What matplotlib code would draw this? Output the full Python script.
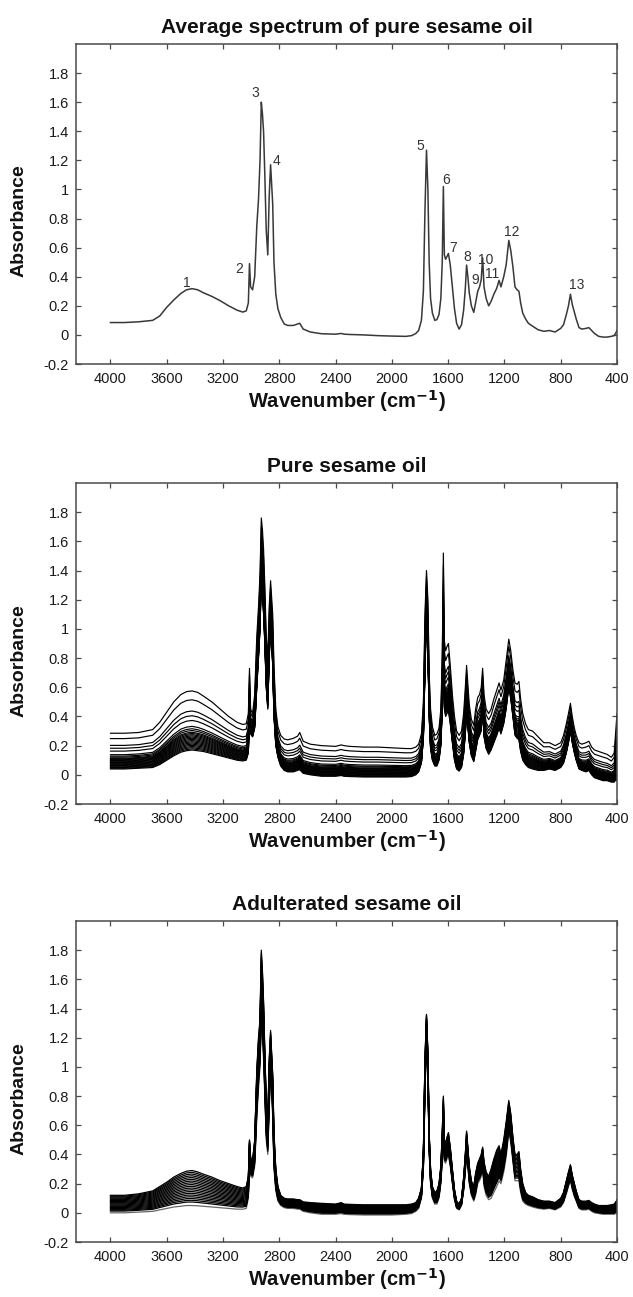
import matplotlib
matplotlib.use("Agg")
import matplotlib.pyplot as plt
import numpy as np
from matplotlib.ticker import FixedLocator, FuncFormatter

plt.rcParams['font.family'] = ['Liberation Sans', 'DejaVu Sans']

# ---------------- data ----------------
wn = [4000, 3900, 3800, 3700, 3650, 3600, 3550, 3500, 3460, 3420,
      3380, 3340, 3280, 3220, 3160, 3100, 3060, 3035, 3020, 3012,
      3004, 2990, 2975, 2960, 2948, 2937, 2928, 2920, 2912, 2903,
      2893, 2882, 2872, 2862, 2855, 2847, 2838, 2825, 2810, 2790,
      2765, 2740, 2700, 2670, 2655, 2630, 2580, 2500, 2400, 2360,
      2340, 2300, 2200, 2100, 2000, 1900, 1860, 1830, 1810, 1790,
      1776, 1765, 1754, 1744, 1735, 1725, 1712, 1695, 1680, 1665,
      1652, 1642, 1634, 1627, 1618, 1608, 1598, 1585, 1570, 1555,
      1540, 1522, 1505, 1490, 1478, 1469, 1460, 1450, 1435, 1418,
      1405, 1390, 1377, 1365, 1355, 1345, 1330, 1312, 1295, 1275,
      1255, 1238, 1225, 1205, 1188, 1169, 1155, 1140, 1125, 1110,
      1097, 1085, 1070, 1050, 1030, 1000, 960, 920, 880, 840,
      800, 780, 760, 745, 731, 718, 703, 690, 670, 650,
      620, 600, 580, 560, 530, 500, 470, 440, 420, 405,
      400]

avg_abs = [0.085, 0.085, 0.09, 0.10, 0.13, 0.19, 0.24, 0.285, 0.31, 0.318,
           0.31, 0.29, 0.265, 0.235, 0.20, 0.17, 0.157, 0.165, 0.22, 0.49,
           0.33, 0.31, 0.40, 0.75, 0.93, 1.20, 1.60, 1.52, 1.40, 1.10,
           0.72, 0.55, 0.95, 1.17, 1.05, 0.90, 0.50, 0.28, 0.18, 0.12,
           0.075, 0.065, 0.065, 0.075, 0.08, 0.04, 0.02, 0.008, 0.005, 0.01,
           0.005, 0.003, 0.0, -0.005, -0.008, -0.01, -0.005, 0.01, 0.03, 0.10,
           0.30, 0.85, 1.27, 1.00, 0.50, 0.25, 0.15, 0.10, 0.105, 0.14,
           0.25, 0.50, 1.02, 0.55, 0.52, 0.54, 0.56, 0.48, 0.33, 0.18,
           0.08, 0.04, 0.07, 0.17, 0.32, 0.48, 0.40, 0.29, 0.20, 0.155,
           0.22, 0.30, 0.33, 0.38, 0.53, 0.33, 0.25, 0.20, 0.23, 0.28,
           0.32, 0.375, 0.33, 0.40, 0.48, 0.65, 0.58, 0.47, 0.33, 0.31,
           0.30, 0.22, 0.15, 0.11, 0.08, 0.06, 0.035, 0.025, 0.03, 0.02,
           0.045, 0.07, 0.14, 0.20, 0.28, 0.21, 0.155, 0.11, 0.05, 0.04,
           0.045, 0.05, 0.03, 0.01, -0.01, -0.015, -0.015, -0.01, -0.005, 0.02,
           0.03]

pure_low = [0.04, 0.04, 0.045, 0.05, 0.07, 0.10, 0.13, 0.155, 0.165, 0.17,
            0.165, 0.16, 0.145, 0.13, 0.115, 0.10, 0.095, 0.10, 0.15, 0.45,
            0.28, 0.26, 0.32, 0.60, 0.80, 1.00, 1.35, 1.25, 1.10, 0.90,
            0.60, 0.45, 0.80, 1.00, 0.90, 0.75, 0.40, 0.20, 0.12, 0.06,
            0.03, 0.02, 0.02, 0.03, 0.035, 0.01, 0.0, -0.01, -0.01, -0.005,
            -0.01, -0.012, -0.015, -0.015, -0.015, -0.015, -0.012, 0.0, 0.02, 0.08,
            0.25, 0.70, 1.10, 0.85, 0.40, 0.18, 0.10, 0.06, 0.06, 0.10,
            0.20, 0.45, 0.95, 0.45, 0.40, 0.42, 0.44, 0.35, 0.22, 0.10,
            0.04, 0.025, 0.05, 0.14, 0.28, 0.42, 0.33, 0.22, 0.13, 0.09,
            0.16, 0.24, 0.27, 0.30, 0.45, 0.26, 0.18, 0.14, 0.17, 0.22,
            0.27, 0.32, 0.28, 0.35, 0.45, 0.60, 0.52, 0.40, 0.27, 0.25,
            0.24, 0.16, 0.10, 0.07, 0.05, 0.04, 0.03, 0.03, 0.04, 0.03,
            0.05, 0.08, 0.15, 0.22, 0.30, 0.22, 0.15, 0.10, 0.04, 0.03,
            0.02, 0.03, 0.0, -0.02, -0.03, -0.04, -0.04, -0.05, -0.05, -0.03,
            -0.04]

pure_high = [0.285, 0.285, 0.29, 0.31, 0.36, 0.43, 0.50, 0.55, 0.57, 0.575,
             0.565, 0.54, 0.50, 0.45, 0.40, 0.36, 0.345, 0.35, 0.42, 0.73,
             0.45, 0.42, 0.55, 0.95, 1.15, 1.38, 1.76, 1.68, 1.55, 1.30,
             0.95, 0.80, 1.15, 1.33, 1.22, 1.10, 0.75, 0.45, 0.33, 0.27,
             0.245, 0.24, 0.25, 0.265, 0.29, 0.23, 0.21, 0.20, 0.195, 0.205,
             0.20, 0.195, 0.19, 0.19, 0.185, 0.18, 0.18, 0.19, 0.21, 0.28,
             0.50, 1.10, 1.40, 1.20, 0.70, 0.45, 0.33, 0.27, 0.28, 0.32,
             0.45, 0.80, 1.52, 0.92, 0.85, 0.88, 0.90, 0.75, 0.55, 0.40,
             0.30, 0.27, 0.30, 0.42, 0.60, 0.75, 0.62, 0.48, 0.38, 0.34,
             0.45, 0.53, 0.55, 0.60, 0.73, 0.55, 0.45, 0.42, 0.45, 0.52,
             0.58, 0.63, 0.58, 0.65, 0.78, 0.93, 0.85, 0.72, 0.63, 0.62,
             0.64, 0.52, 0.42, 0.35, 0.31, 0.30, 0.26, 0.22, 0.22, 0.20,
             0.22, 0.27, 0.35, 0.42, 0.49, 0.40, 0.32, 0.27, 0.22, 0.21,
             0.22, 0.23, 0.19, 0.17, 0.16, 0.15, 0.14, 0.12, 0.15, 0.35,
             0.42]

# position of each pure-oil spectrum between the low and high envelopes
pure_mix = [0.0, 0.02, 0.04, 0.06, 0.08, 0.10, 0.12, 0.14, 0.16, 0.18,
            0.20, 0.22, 0.24, 0.26, 0.28, 0.30, 0.33, 0.36, 0.40, 0.50,
            0.58, 0.66, 0.85, 1.0]

adult_low = [0.0, 0.0, 0.005, 0.01, 0.02, 0.03, 0.04, 0.045, 0.05, 0.05,
             0.048, 0.045, 0.04, 0.035, 0.03, 0.025, 0.025, 0.03, 0.10, 0.38,
             0.25, 0.24, 0.32, 0.65, 0.85, 1.00, 1.30, 1.20, 1.05, 0.80,
             0.50, 0.40, 0.70, 0.95, 0.85, 0.65, 0.30, 0.15, 0.08, 0.05,
             0.035, 0.03, 0.03, 0.025, 0.025, 0.01, 0.0, -0.01, -0.01, -0.005,
             -0.01, -0.012, -0.015, -0.015, -0.015, -0.01, -0.005, 0.01, 0.03, 0.10,
             0.30, 0.80, 1.20, 0.90, 0.42, 0.20, 0.10, 0.06, 0.06, 0.10,
             0.20, 0.35, 0.55, 0.35, 0.34, 0.37, 0.39, 0.32, 0.20, 0.09,
             0.03, 0.02, 0.05, 0.15, 0.28, 0.40, 0.32, 0.20, 0.12, 0.08,
             0.12, 0.20, 0.22, 0.25, 0.30, 0.18, 0.12, 0.09, 0.10, 0.14,
             0.18, 0.22, 0.20, 0.28, 0.38, 0.55, 0.48, 0.35, 0.22, 0.22,
             0.22, 0.14, 0.08, 0.06, 0.05, 0.04, 0.03, 0.025, 0.03, 0.02,
             0.04, 0.07, 0.13, 0.18, 0.22, 0.16, 0.11, 0.08, 0.03, 0.02,
             0.02, 0.025, 0.01, 0.0, -0.005, -0.01, -0.01, -0.01, -0.01, 0.0,
             0.0]

adult_high = [0.12, 0.12, 0.13, 0.15, 0.18, 0.21, 0.245, 0.27, 0.285, 0.29,
              0.28, 0.265, 0.245, 0.22, 0.20, 0.18, 0.17, 0.18, 0.25, 0.50,
              0.38, 0.36, 0.50, 0.98, 1.20, 1.33, 1.80, 1.66, 1.45, 1.10,
              0.78, 0.62, 1.05, 1.25, 1.10, 0.95, 0.55, 0.30, 0.18, 0.12,
              0.10, 0.095, 0.095, 0.09, 0.09, 0.075, 0.07, 0.065, 0.06, 0.07,
              0.06, 0.058, 0.055, 0.055, 0.055, 0.055, 0.06, 0.07, 0.10, 0.17,
              0.42, 1.05, 1.36, 1.10, 0.55, 0.30, 0.18, 0.14, 0.15, 0.20,
              0.32, 0.55, 0.80, 0.50, 0.48, 0.52, 0.55, 0.45, 0.30, 0.16,
              0.08, 0.06, 0.10, 0.24, 0.40, 0.56, 0.45, 0.32, 0.22, 0.18,
              0.27, 0.34, 0.37, 0.40, 0.45, 0.35, 0.28, 0.25, 0.30, 0.37,
              0.43, 0.46, 0.40, 0.50, 0.62, 0.77, 0.68, 0.52, 0.40, 0.40,
              0.42, 0.30, 0.20, 0.14, 0.12, 0.11, 0.09, 0.08, 0.08, 0.07,
              0.10, 0.14, 0.22, 0.28, 0.33, 0.26, 0.20, 0.15, 0.09, 0.08,
              0.08, 0.085, 0.07, 0.06, 0.05, 0.05, 0.05, 0.055, 0.06, 0.08,
              0.09]

adult_mix = [0.0, 0.1, 0.15, 0.2, 0.25, 0.3, 0.35, 0.4, 0.45, 0.5,
             0.55, 0.6, 0.65, 0.7, 0.75, 0.8, 0.85, 0.9, 0.95, 1.0]

peak_labels = ['1', '2', '3', '4', '5', '6', '7', '8', '9', '10', '11', '12', '13']
peak_label_wn = [3459, 3087, 2970, 2821, 1797, 1611, 1568, 1462, 1411, 1333, 1285, 1147, 684]
peak_label_abs = [0.358, 0.45, 1.66, 1.194, 1.298, 1.067, 0.595, 0.537, 0.38, 0.514, 0.418, 0.71, 0.342]

x_ticks = [4000, 3600, 3200, 2800, 2400, 2000, 1600, 1200, 800, 400]
y_ticks = [-0.2, 0, 0.2, 0.4, 0.6, 0.8, 1.0, 1.2, 1.4, 1.6, 1.8]
titles = ['Average spectrum of pure sesame oil', 'Pure sesame oil', 'Adulterated sesame oil']

# ---------------- layout ----------------
W, H = 633, 1297
fig = plt.figure(figsize=(W / 100, H / 100), dpi=100)
fig.patch.set_facecolor('white')

FRAME = '#4a4a4a'


def make_axes(top, bottom, left=76, right=617):
    return fig.add_axes([left / W, 1 - bottom / H, (right - left) / W, (bottom - top) / H])


def style(ax, title):
    ax.set_xlim(4245, 400)
    ax.set_ylim(-0.2, 2.0)
    ax.xaxis.set_major_locator(FixedLocator(x_ticks))
    ax.yaxis.set_major_locator(FixedLocator(y_ticks))
    ax.yaxis.set_major_formatter(FuncFormatter(lambda v, p: ('%g' % round(v, 2))))
    ax.xaxis.set_major_formatter(FuncFormatter(lambda v, p: '%d' % v))
    ax.tick_params(axis='both', which='major', direction='in', length=3.5, width=0.9,
                   color=FRAME, labelsize=10.5, labelcolor='#1a1a1a',
                   top=True, right=True)
    ax.tick_params(axis='y', pad=5)
    ax.tick_params(axis='x', pad=6)
    for s in ax.spines.values():
        s.set_color(FRAME)
        s.set_linewidth(1.1)
    ax.set_title(title, fontsize=15, fontweight='bold', pad=8, color='#111111')
    ax.set_xlabel('Wavenumber (cm$^{\\mathbf{-1}}$)', fontsize=14.5, fontweight='bold', color='#111111')
    ax.set_ylabel('Absorbance', fontsize=14, fontweight='bold', color='#111111')
    ax.yaxis.set_label_coords(-0.09, 0.447)
    ax.xaxis.set_label_coords(0.5, -0.075)


wn_arr = np.array(wn)

# Panel 1: average spectrum
ax1 = make_axes(44, 364)
ax1.plot(wn_arr, avg_abs, color='#383838', lw=1.1)
for lab, xw, ya in zip(peak_labels, peak_label_wn, peak_label_abs):
    ax1.text(xw, ya, lab, fontsize=10, color='#333333', ha='center', va='center')
style(ax1, titles[0])

# Panel 2: pure sesame oil spectra
ax2 = make_axes(483, 804)
lo, hi = np.array(pure_low), np.array(pure_high)
for f in pure_mix:
    ax2.plot(wn_arr, lo + f * (hi - lo), color='black', lw=0.85)
style(ax2, titles[1])

# Panel 3: adulterated sesame oil spectra
ax3 = make_axes(921, 1242)
lo, hi = np.array(adult_low), np.array(adult_high)
for i, f in enumerate(adult_mix):
    ax3.plot(wn_arr, lo + f * (hi - lo), color='#666666' if i == 0 else 'black',
             lw=0.9)
style(ax3, titles[2])

fig.savefig('out.png', dpi=100, facecolor='white')
